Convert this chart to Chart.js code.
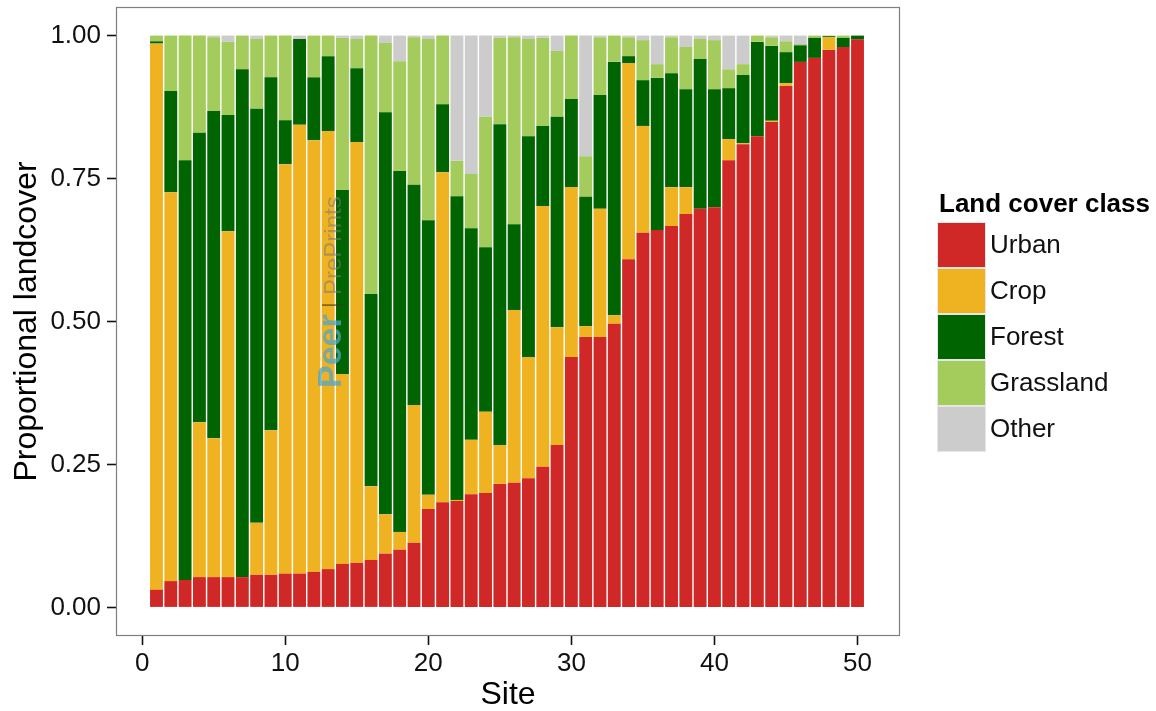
<!DOCTYPE html>
<html>
<head>
<meta charset="utf-8">
<script src="https://cdn.jsdelivr.net/npm/chart.js@4.4.0/dist/chart.umd.min.js"></script>
<style>
    html, body { margin: 0; padding: 0; background: #ffffff; }
    #wrap { width: 1156px; height: 711px; }
</style>
</head>
<body>
<div id="wrap"><canvas id="landcoverChart" width="1156" height="711"></canvas></div>
<script>
// proportion of each land cover class per site (sites ordered by urban share)
const sites = [1, 2, 3, 4, 5, 6, 7, 8, 9, 10, 11, 12, 13, 14, 15, 16, 17, 18, 19, 20,
    21, 22, 23, 24, 25, 26, 27, 28, 29, 30, 31, 32, 33, 34, 35, 36, 37, 38, 39, 40,
    41, 42, 43, 44, 45, 46, 47, 48, 49, 50];

const urban = [0.031, 0.046, 0.048, 0.053, 0.053, 0.053, 0.053, 0.057, 0.057, 0.059,
    0.059, 0.062, 0.067, 0.076, 0.078, 0.083, 0.094, 0.101, 0.113, 0.172,
    0.184, 0.186, 0.198, 0.200, 0.216, 0.218, 0.226, 0.246, 0.284, 0.438,
    0.473, 0.473, 0.496, 0.609, 0.655, 0.660, 0.667, 0.688, 0.697, 0.700,
    0.782, 0.810, 0.824, 0.849, 0.912, 0.954, 0.961, 0.975, 0.980, 0.993];

const crop = [0.955, 0.680, 0.000, 0.271, 0.243, 0.605, 0.000, 0.091, 0.253, 0.716,
    0.785, 0.755, 0.766, 0.332, 0.736, 0.129, 0.069, 0.031, 0.241, 0.025,
    0.577, 0.002, 0.095, 0.142, 0.068, 0.302, 0.212, 0.456, 0.206, 0.297,
    0.019, 0.224, 0.015, 0.343, 0.187, 0.000, 0.068, 0.047, 0.000, 0.000,
    0.037, 0.002, 0.000, 0.002, 0.005, 0.000, 0.000, 0.022, 0.000, 0.000];

const forest = [0.004, 0.177, 0.734, 0.506, 0.572, 0.203, 0.888, 0.724, 0.617, 0.077,
    0.150, 0.110, 0.131, 0.322, 0.129, 0.336, 0.703, 0.631, 0.385, 0.480,
    0.119, 0.531, 0.370, 0.288, 0.561, 0.150, 0.386, 0.140, 0.368, 0.154,
    0.226, 0.199, 0.443, 0.012, 0.080, 0.266, 0.199, 0.171, 0.262, 0.206,
    0.089, 0.119, 0.165, 0.131, 0.054, 0.029, 0.035, 0.002, 0.016, 0.007];

const grassland = [0.010, 0.097, 0.218, 0.170, 0.129, 0.128, 0.059, 0.122, 0.073, 0.148,
    0.000, 0.073, 0.036, 0.266, 0.051, 0.452, 0.121, 0.192, 0.258, 0.317,
    0.120, 0.062, 0.095, 0.228, 0.151, 0.327, 0.170, 0.154, 0.115, 0.111,
    0.071, 0.101, 0.046, 0.033, 0.070, 0.024, 0.063, 0.074, 0.035, 0.086,
    0.033, 0.019, 0.011, 0.015, 0.019, 0.002, 0.004, 0.001, 0.004, 0.000];

const other = [0.000, 0.000, 0.000, 0.000, 0.003, 0.011, 0.000, 0.006, 0.000, 0.000,
    0.006, 0.000, 0.000, 0.004, 0.006, 0.000, 0.013, 0.045, 0.003, 0.006,
    0.000, 0.219, 0.242, 0.142, 0.004, 0.003, 0.006, 0.004, 0.027, 0.000,
    0.211, 0.003, 0.000, 0.003, 0.008, 0.050, 0.003, 0.020, 0.006, 0.008,
    0.059, 0.050, 0.000, 0.003, 0.010, 0.015, 0.000, 0.000, 0.000, 0.000];

const classNames = ['Urban', 'Crop', 'Forest', 'Grassland', 'Other'];
const classColors = ['#d02727', '#efb322', '#006400', '#a3cc5d', '#cccccc'];

const yTicks = [0, 0.25, 0.5, 0.75, 1];
const xTicks = [0, 10, 20, 30, 40, 50];

const FONT = "'Liberation Sans', Arial, Helvetica, sans-serif";
Chart.defaults.font.family = FONT;
Chart.defaults.color = '#111111';

function toPoints(values) {
    return sites.map((s, i) => ({ x: s, y: values[i] }));
}

const series = [urban, crop, forest, grassland, other];

// grey frame around the plotting panel
const panelFrame = {
    id: 'panelFrame',
    afterDraw(chart) {
        const { ctx, chartArea } = chart;
        ctx.save();
        ctx.strokeStyle = '#7f7f7f';
        ctx.lineWidth = 1.2;
        ctx.strokeRect(chartArea.left + 0.5, chartArea.top + 0.5,
            chartArea.right - chartArea.left - 1, chartArea.bottom - chartArea.top - 1);
        ctx.restore();
    }
};

// faint vertical publisher mark over the bars
const watermark = {
    id: 'watermark',
    afterDatasetsDraw(chart) {
        const ctx = chart.ctx;
        ctx.save();
        ctx.translate(341, 388);
        ctx.rotate(-Math.PI / 2);
        ctx.textBaseline = 'alphabetic';
        ctx.textAlign = 'left';
        ctx.font = 'bold 34px ' + FONT;
        ctx.fillStyle = 'rgba(80, 165, 200, 0.75)';
        ctx.fillText('Peer', 0, 0);
        ctx.font = '22px ' + FONT;
        ctx.fillStyle = 'rgba(60, 50, 30, 0.6)';
        ctx.fillText('|', 80, -3);
        ctx.font = '24px ' + FONT;
        ctx.fillStyle = 'rgba(120, 120, 120, 0.55)';
        ctx.fillText('PrePrints', 93, 0);
        ctx.restore();
    }
};

// legend box on the right: title plus stacked colour keys
const sideLegend = {
    id: 'sideLegend',
    afterDraw(chart) {
        const ctx = chart.ctx;
        const x0 = 937, keyW = 49, keyH = 46, top = 222;
        ctx.save();
        ctx.fillStyle = '#000000';
        ctx.font = 'bold 26px ' + FONT;
        ctx.textBaseline = 'alphabetic';
        ctx.textAlign = 'left';
        ctx.fillText('Land cover class', 939, 212);
        ctx.font = '26px ' + FONT;
        ctx.textBaseline = 'middle';
        chart.data.datasets.forEach((ds, i) => {
            const y = top + i * keyH;
            ctx.fillStyle = ds.backgroundColor;
            ctx.fillRect(x0, y, keyW, keyH);
            ctx.strokeStyle = '#e6e6e6';
            ctx.lineWidth = 1;
            ctx.strokeRect(x0 + 0.5, y + 0.5, keyW - 1, keyH - 1);
            ctx.fillStyle = '#111111';
            ctx.fillText(ds.label, 990, y + keyH / 2 + 1);
        });
        ctx.restore();
    }
};

const ctx = document.getElementById('landcoverChart').getContext('2d');
const landcoverChart = new Chart(ctx, {
    type: 'bar',
    data: {
        datasets: series.map((values, i) => ({
            label: classNames[i],
            data: toPoints(values),
            backgroundColor: classColors[i],
            borderWidth: 0,
            categoryPercentage: 0.9,
            barPercentage: 1.0
        }))
    },
    options: {
        responsive: false,
        animation: false,
        layout: {
            padding: { top: 7, right: 256, left: 0, bottom: 0 }
        },
        plugins: {
            legend: { display: false },
            tooltip: { enabled: false }
        },
        scales: {
            x: {
                type: 'linear',
                stacked: true,
                offset: false,
                min: -1.83,
                max: 52.97,
                afterBuildTicks: function (scale) {
                    scale.ticks = xTicks.map(v => ({ value: v }));
                },
                afterFit: function (scale) {
                    scale.height = 75;
                    scale.paddingLeft = 0;
                    scale.paddingRight = 0;
                },
                grid: {
                    display: true,
                    offset: false,
                    drawOnChartArea: false,
                    drawTicks: true,
                    tickLength: 9,
                    tickColor: '#111111',
                    tickWidth: 1.6
                },
                border: { display: false },
                ticks: {
                    padding: 3,
                    maxRotation: 0,
                    autoSkip: false,
                    font: { size: 26 },
                    color: '#111111',
                    callback: function (value) {
                        return String(value);
                    }
                },
                title: {
                    display: true,
                    text: 'Site',
                    font: { size: 32, lineHeight: 1.0 },
                    color: '#000000',
                    padding: { top: 0, bottom: 0 }
                }
            },
            y: {
                stacked: true,
                min: -0.05,
                max: 1.05,
                afterBuildTicks: function (scale) {
                    scale.ticks = yTicks.map(v => ({ value: v }));
                },
                afterFit: function (scale) {
                    scale.width = 116;
                    scale.paddingTop = 0;
                    scale.paddingBottom = 0;
                },
                grid: {
                    display: true,
                    drawOnChartArea: false,
                    drawTicks: true,
                    tickLength: 9,
                    tickColor: '#111111',
                    tickWidth: 1.6
                },
                border: { display: false },
                ticks: {
                    padding: 6,
                    autoSkip: false,
                    font: { size: 26 },
                    color: '#111111',
                    callback: function (value) {
                        return value.toFixed(2);
                    }
                },
                title: {
                    display: true,
                    text: 'Proportional landcover',
                    font: { size: 32, lineHeight: 1.0 },
                    color: '#000000',
                    padding: { top: 11, bottom: 0 }
                }
            }
        }
    },
    plugins: [watermark, panelFrame, sideLegend]
});
</script>
</body>
</html>
